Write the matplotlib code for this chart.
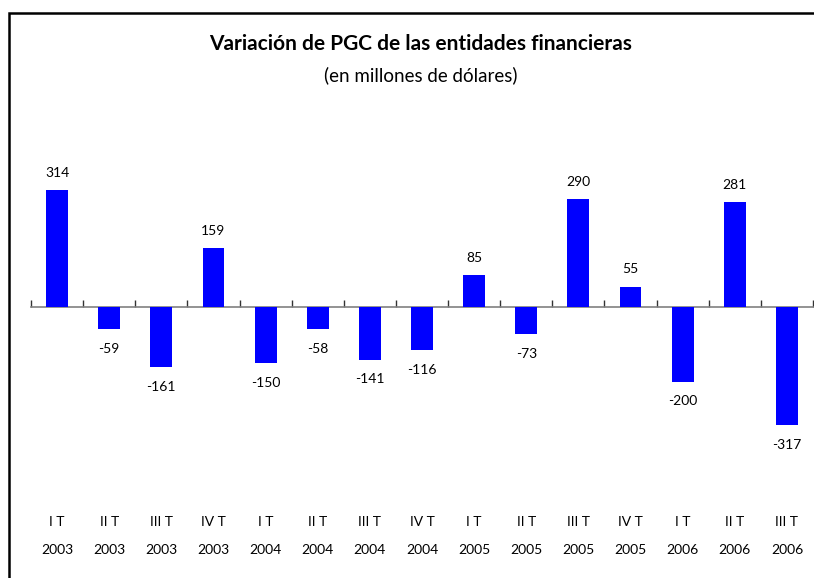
import matplotlib.pyplot as plt
from matplotlib.patches import Rectangle
import matplotlib.transforms as mtransforms

plt.rcParams['font.family'] = ['Lato', 'DejaVu Sans']

# Quarterly change in PGC (millions of dollars)
quarters = ['I T', 'II T', 'III T', 'IV T', 'I T', 'II T', 'III T', 'IV T',
            'I T', 'II T', 'III T', 'IV T', 'I T', 'II T', 'III T']
years = ['2003', '2003', '2003', '2003', '2004', '2004', '2004', '2004',
         '2005', '2005', '2005', '2005', '2006', '2006', '2006']
values = [314, -59, -161, 159, -150, -58, -141, -116,
          85, -73, 290, 55, -200, 281, -317]

fig = plt.figure(figsize=(8.14, 5.78), dpi=100)
W, H = 814, 578
# plot area: x 31..813 px, y 100..500 px (from top)
ax = fig.add_axes([31 / W, (H - 500) / H, 782 / W, 400 / H])

x = list(range(len(values)))
ax.bar(x, values, width=0.42, color='#0000FF', zorder=3)
ax.set_xlim(-0.5, len(values) - 0.5)
ax.set_ylim(-518, 556)

# zero axis with upward ticks at category boundaries
for s in ['top', 'right', 'left']:
    ax.spines[s].set_visible(False)
ax.spines['bottom'].set_position(('data', 0))
ax.spines['bottom'].set_color('#808080')
ax.spines['bottom'].set_linewidth(1.2)
ax.set_xticks([i - 0.5 for i in range(len(values) + 1)])
ax.tick_params(axis='x', direction='in', length=5, width=1, color='#333333',
               labelbottom=False)
ax.set_yticks([])

# value labels
for xi, v in zip(x, values):
    if v >= 0:
        ax.annotate(str(v), (xi, v), xytext=(0, 8), textcoords='offset points',
                    ha='center', va='bottom', fontsize=10)
    else:
        ax.annotate(str(v), (xi, v), xytext=(0, -10), textcoords='offset points',
                    ha='center', va='top', fontsize=10)

# category labels near the bottom of the frame
trans = mtransforms.blended_transform_factory(ax.transData, fig.transFigure)
for xi, q, yr in zip(x, quarters, years):
    ax.text(xi, (H - 522) / H, q, transform=trans, ha='center', va='center',
            fontsize=10)
    ax.text(xi, (H - 550) / H, yr, transform=trans, ha='center', va='center',
            fontsize=10)

fig.text(421 / W, (H - 44) / H, 'Variación de PGC de las entidades financieras',
         ha='center', va='center', fontsize=15, fontweight='bold')
fig.text(421 / W, (H - 75) / H, '(en millones de dólares)',
         ha='center', va='center', fontsize=13.5)

# outer frame (right and bottom edges run past the image)
fig.patches.append(Rectangle((9 / W, -0.1), 1.2, (H - 13) / H + 0.1,
                             transform=fig.transFigure, fill=False,
                             edgecolor='black', linewidth=1.8))

fig.savefig('out.png', dpi=100)
